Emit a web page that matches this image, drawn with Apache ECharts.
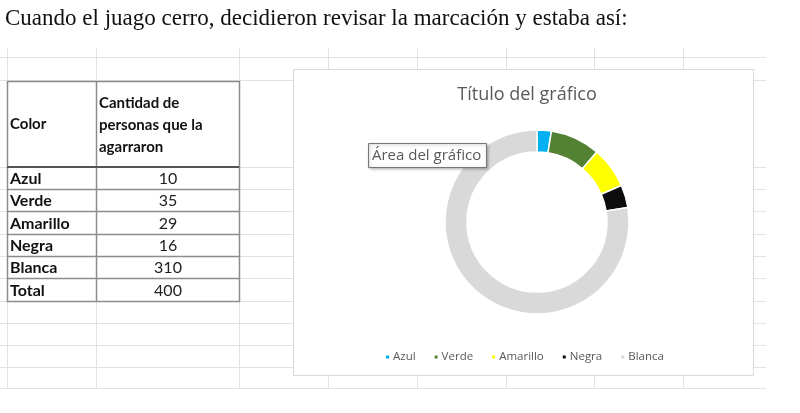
<!DOCTYPE html>
<html>
<head>
<meta charset="utf-8">
<script src="https://cdn.jsdelivr.net/npm/echarts@6/dist/echarts.min.js"></script>
<style>
html,body{margin:0;padding:0;background:#fff;}
#main{width:800px;height:413px;}
</style>
</head>
<body>
<div id="main"></div>
<script>
// ---- data ----
const pageTitle = 'Cuando el juago cerro, decidieron revisar la marcación y estaba así:';
const chartTitle = 'Título del gráfico';
const tooltipText = 'Área del gráfico';
const headerColor = 'Color';
const headerCount = ['Cantidad de', 'personas que la', 'agarraron'];
const categories = ['Azul', 'Verde', 'Amarillo', 'Negra', 'Blanca'];
const values = [10, 35, 29, 16, 310];
const totalLabel = 'Total';
const totalValue = 400;
const colors = ['#00B0F0', '#548235', '#FFFF00', '#0D0D0D', '#D9D9D9'];

// ---- layout (spreadsheet look) ----
const colLines = [7, 96, 239, 328, 417, 506, 594, 683];
const rowLines = [57, 80, 167, 189, 211, 234, 256, 278, 301, 323, 345, 367, 388];
const tbl = {left: 7, mid: 96, right: 239, top: 81, headBottom: 167};
const bodyRows = [167, 189, 211, 234, 256, 278, 301];
const box = {x: 293, y: 69, w: 460, h: 306};

const graphics = [];
colLines.forEach(x => graphics.push({type: 'line', z: 0, silent: true,
  shape: {x1: x + 0.5, y1: 48, x2: x + 0.5, y2: 388}, style: {stroke: '#E2E2E2', lineWidth: 1}}));
rowLines.forEach(y => graphics.push({type: 'line', z: 0, silent: true,
  shape: {x1: 0, y1: y + 0.5, x2: 766, y2: y + 0.5}, style: {stroke: '#E2E2E2', lineWidth: 1}}));
graphics.push({type: 'rect', z: 1, silent: true,
  shape: {x: tbl.left, y: tbl.top, width: tbl.right - tbl.left, height: bodyRows[bodyRows.length - 1] - tbl.top},
  style: {fill: '#fff'}});
const bc = '#8C8C8C';
graphics.push({type: 'rect', z: 2, silent: true,
  shape: {x: tbl.left + 0.5, y: tbl.top + 0.5, width: tbl.right - tbl.left, height: bodyRows[bodyRows.length - 1] - tbl.top},
  style: {fill: 'none', stroke: bc, lineWidth: 1.5}});
graphics.push({type: 'line', z: 2, silent: true,
  shape: {x1: tbl.mid + 0.5, y1: tbl.top, x2: tbl.mid + 0.5, y2: bodyRows[bodyRows.length - 1]},
  style: {stroke: bc, lineWidth: 1.5}});
graphics.push({type: 'line', z: 3, silent: true,
  shape: {x1: tbl.left, y1: tbl.headBottom, x2: tbl.right, y2: tbl.headBottom},
  style: {stroke: '#555', lineWidth: 2}});
for (let i = 1; i < bodyRows.length - 1; i++) {
  graphics.push({type: 'line', z: 2, silent: true,
    shape: {x1: tbl.left, y1: bodyRows[i] + 0.5, x2: tbl.right, y2: bodyRows[i] + 0.5},
    style: {stroke: bc, lineWidth: 1.5}});
}
const cellFont = 'Lato, "Open Sans", sans-serif';
graphics.push({type: 'text', z: 4, silent: true, x: 10, y: (tbl.top + tbl.headBottom) / 2,
  style: {text: headerColor, font: 'bold 15px ' + cellFont, fill: '#111', verticalAlign: 'middle'}});
headerCount.forEach((t, i) => graphics.push({type: 'text', z: 4, silent: true, x: 99, y: 103 + i * 22,
  style: {text: t, font: 'bold 15px ' + cellFont, fill: '#111', verticalAlign: 'middle'}}));
const rowLabels = categories.concat([totalLabel]);
const rowValues = values.concat([totalValue]);
rowLabels.forEach((lab, i) => {
  const cy = (bodyRows[i] + bodyRows[i + 1]) / 2 + 1;
  graphics.push({type: 'text', z: 4, silent: true, x: 10, y: cy,
    style: {text: lab, font: 'bold 16px ' + cellFont, fill: '#111', verticalAlign: 'middle'}});
  graphics.push({type: 'text', z: 4, silent: true, x: 168, y: cy,
    style: {text: String(rowValues[i]), font: '16px ' + cellFont, fill: '#222', align: 'center', verticalAlign: 'middle'}});
});
graphics.push({type: 'text', z: 4, silent: true, x: 5, y: 19,
  style: {text: pageTitle, font: '23px "Liberation Serif", "Times New Roman", serif', fill: '#111', verticalAlign: 'middle'}});
graphics.push({type: 'rect', z: 1, silent: true,
  shape: {x: box.x + 0.5, y: box.y + 0.5, width: box.w, height: box.h},
  style: {fill: '#fff', stroke: '#D9D9D9', lineWidth: 1}});
graphics.push({type: 'rect', z: 100, silent: true,
  shape: {x: 368.5, y: 143.5, width: 118, height: 24},
  style: {fill: '#fff', stroke: '#777', lineWidth: 1, shadowBlur: 3, shadowOffsetX: 1, shadowOffsetY: 1, shadowColor: 'rgba(0,0,0,0.3)'}});
graphics.push({type: 'text', z: 101, silent: true, x: 372, y: 156,
  style: {text: tooltipText, font: '15px "Open Sans", sans-serif', fill: '#595959', verticalAlign: 'middle'}});

const chart = echarts.init(document.getElementById('main'), null, {renderer: 'canvas'});
chart.setOption({
  animation: false,
  backgroundColor: '#fff',
  title: {
    text: chartTitle, left: 522, top: 81, textAlign: 'center',
    textStyle: {fontFamily: '"Open Sans", sans-serif', fontSize: 18, fontWeight: 'normal', color: '#595959'}
  },
  legend: {
    data: categories, left: 384, top: 351, padding: 0, itemWidth: 5, itemHeight: 5, itemGap: 17,
    icon: 'rect', selectedMode: false,
    textStyle: {fontFamily: '"Open Sans", sans-serif', fontSize: 11.5, color: '#595959', padding: [0, 0, 0, -2]}
  },
  graphic: graphics,
  series: [{
    type: 'pie', z: 10,
    center: [537, 222], radius: [70, 92],
    startAngle: 90, clockwise: true,
    label: {show: false}, labelLine: {show: false},
    itemStyle: {borderColor: '#fff', borderWidth: 1.5},
    emphasis: {disabled: true},
    data: categories.map((c, i) => ({name: c, value: values[i], itemStyle: {color: colors[i]}}))
  }]
});
</script>
</body>
</html>
